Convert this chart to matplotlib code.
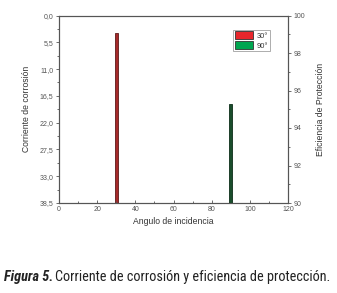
import matplotlib
matplotlib.use("Agg")
import matplotlib.pyplot as plt
from matplotlib.patches import Patch
from matplotlib import font_manager
import numpy as np

angles = [30, 90]
series_labels = ["30°", "90°"]
corrosion_current = [3.6]      # left axis (inverted), bar at 30°
protection_eff = [95.3]        # right axis, bar at 90°
left_ticks = [0.0, 5.5, 11.0, 16.5, 22.0, 27.5, 33.0, 38.5]
right_ticks = [90, 92, 94, 96, 98, 100]
x_ticks = [0, 20, 40, 60, 80, 100, 120]

plt.rcParams["font.family"] = ["Liberation Sans", "DejaVu Sans"]

names = {f.name for f in font_manager.fontManager.ttflist}
cap_font = "Roboto"
for cand in ["Roboto Condensed", "Open Sans Condensed", "Liberation Sans Narrow", "Roboto"]:
    if cand in names:
        cap_font = cand
        break

fig = plt.figure(figsize=(3.37, 2.93), dpi=100)
ax = fig.add_axes([59/337, 1-203/293, (288-59)/337, (203-15.5)/293])
ax2 = ax.twinx()

tcol = "#555555"
fs = 5.0
spcol = "#555555"

ax.bar(angles[0], corrosion_current[0] - left_ticks[-1], bottom=left_ticks[-1],
       width=1.5, color="#a52a2a", edgecolor="#5e1a1a", linewidth=0.6)
ax.set_ylim(left_ticks[-1], left_ticks[0])
ax.set_yticks(left_ticks)
ax.set_yticklabels([f"{v:.1f}".replace(".", ",") for v in left_ticks])
ax.set_yticks([v + 2.75 for v in left_ticks[:-1]], minor=True)
ax.set_xlim(0, 120)
ax.set_xticks(x_ticks)
ax.set_xticks(np.arange(10, 120, 20), minor=True)

ax2.bar(angles[1], protection_eff[0] - right_ticks[0], bottom=right_ticks[0],
        width=1.5, color="#1a4d2c", edgecolor="#0b2e18", linewidth=0.6)
ax2.set_ylim(90, 100)
ax2.set_yticks(right_ticks)
ax2.set_yticks(np.arange(91, 100, 2), minor=True)

for a in (ax, ax2):
    for s in a.spines.values():
        s.set_color(spcol)
        s.set_linewidth(0.8)
ax.tick_params(axis="x", which="both", direction="in", colors=spcol, labelcolor=tcol,
               labelsize=fs, length=2.5, width=0.6, pad=2)
ax.tick_params(axis="x", which="minor", length=1.5)
ax.tick_params(axis="y", which="both", direction="out", colors=spcol, labelcolor=tcol,
               labelsize=fs, length=2.5, width=0.6, pad=1.5)
ax.tick_params(axis="y", which="minor", length=1.5)
ax2.tick_params(axis="y", which="both", direction="out", colors=spcol, labelcolor=tcol,
                labelsize=fs, length=2.5, width=0.6, pad=1.5)
ax2.tick_params(axis="y", which="minor", length=1.5)

ax.set_xlabel("Angulo de incidencia", fontsize=6.2, color="#333333", labelpad=3)
ax.set_ylabel("Corriente de corrosión", fontsize=6.2, color="#333333", labelpad=6)
ax2.set_ylabel("Eficiencia de Protección", fontsize=6.2, color="#333333", labelpad=8)

handles = [Patch(facecolor="#e8262c", edgecolor="#333333", linewidth=0.6),
           Patch(facecolor="#00a650", edgecolor="#333333", linewidth=0.6)]
leg = ax2.legend(handles, series_labels, loc="upper right", bbox_to_anchor=(0.922, 0.925),
                 fontsize=5.4, frameon=True, fancybox=False, handlelength=2.4,
                 handleheight=1.1, borderpad=0.25, labelspacing=0.25, handletextpad=0.5,
                 borderaxespad=0)
leg.get_frame().set_edgecolor("#888888")
leg.get_frame().set_linewidth(0.6)
for t in leg.get_texts():
    t.set_color("#333333")

# caption, sized to span the same width as the reference
x0, x1, yb = 4, 330, 1 - 281/293
cap_fs = 9.0
renderer = fig.canvas.get_renderer()
for _ in range(3):
    t1 = fig.text(x0/337, yb, "Figura 5.", fontsize=cap_fs, fontweight="bold",
                  fontstyle="italic", family=cap_font, color="#222222")
    w1 = t1.get_window_extent(renderer).width
    t2 = fig.text((x0 + w1 + 2)/337, yb, "Corriente de corrosión y eficiencia de protección.",
                  fontsize=cap_fs, family=cap_font, color="#222222")
    w2 = t2.get_window_extent(renderer).width
    total = w1 + 2 + w2
    t1.remove(); t2.remove()
    cap_fs *= (x1 - x0) / total
t1 = fig.text(x0/337, yb, "Figura 5.", fontsize=cap_fs, fontweight="bold",
              fontstyle="italic", family=cap_font, color="#222222")
w1 = t1.get_window_extent(renderer).width
fig.text((x0 + w1 + 2)/337, yb, "Corriente de corrosión y eficiencia de protección.",
         fontsize=cap_fs, family=cap_font, color="#222222")

fig.savefig("out.png", dpi=100)
